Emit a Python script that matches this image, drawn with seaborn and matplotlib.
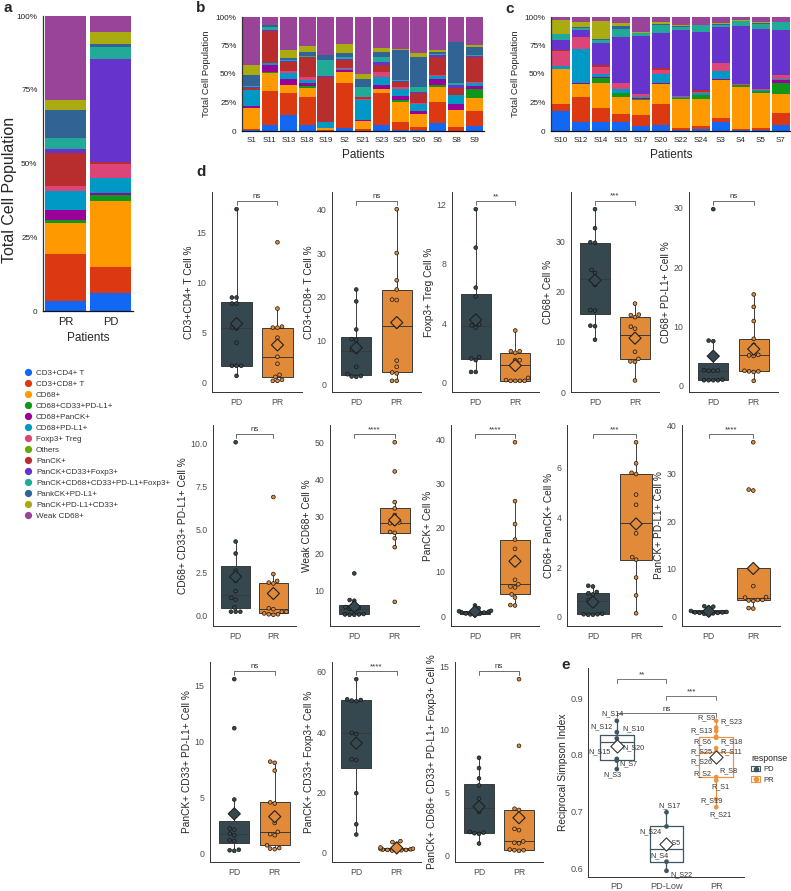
import numpy as np
import pandas as pd
import seaborn as sns
import matplotlib.pyplot as plt
from matplotlib.lines import Line2D
from matplotlib.patches import Patch
from matplotlib.ticker import FormatStrFormatter

# ---------------------------------------------------------
# Cell types (stack order bottom -> top) and their colours
# ---------------------------------------------------------
cell_types = ["CD3+CD4+ T", "CD3+CD8+ T", "CD68+", "CD68+CD33+PD-L1+", "CD68+PanCK+",
              "CD68+PD-L1+", "Foxp3+ Treg", "Others", "PanCK+", "PanCK+CD33+Foxp3+",
              "PanCK+CD68+CD33+PD-L1+Foxp3+", "PankCK+PD-L1+", "PanCK+PD-L1+CD33+", "Weak CD68+"]
cell_colors = ["#1268f5", "#dc3912", "#ff9900", "#109618", "#990099", "#0099c6", "#dd4477",
               "#66aa00", "#b82e2e", "#6633cc", "#22aa99", "#316395", "#aaaa11", "#994499"]

# ---------------------------------------------------------
# Panel a: composition per response group (%)
# ---------------------------------------------------------
a_groups = ["PR", "PD"]
a_pr = [3.3, 15.9, 10.6, 1.0, 3.6, 6.3, 1.6, 0.2, 11.1, 1.4, 3.5, 9.8, 3.2, 28.5]
a_pd = [6.2, 8.7, 22.3, 2.1, 0.7, 5.1, 4.6, 0.1, 0.8, 34.7, 4.3, 1.0, 4.1, 5.3]

# ---------------------------------------------------------
# Panel b: PR patients (%)
# ---------------------------------------------------------
b_samples = ["S1", "S11", "S13", "S18", "S19", "S2", "S21", "S23", "S25", "S26", "S6", "S8", "S9"]
pr_s1 = [0.6, 1.4, 18.3, 0, 1.5, 14.1, 0.5, 0, 1.7, 0.5, 0.5, 10.2, 8.6, 42.1]
pr_s11 = [5, 30.3, 15.9, 0.2, 6.2, 1.8, 0.6, 0, 28, 0.8, 2.4, 1.7, 0.1, 7]
pr_s13 = [13.8, 19.7, 6.5, 0, 5.9, 4.7, 2.0, 0, 8.3, 0.5, 1.0, 1.4, 7.4, 28.8]
pr_s18 = [5.6, 23.8, 8.2, 2.1, 2.1, 2.9, 2.4, 0, 17.6, 0.6, 0.6, 3.8, 5.0, 25.3]
pr_s19 = [0.3, 0.3, 2.0, 0, 0.2, 5.3, 0.2, 0, 39.5, 0.4, 14.4, 4.4, 0, 33]
pr_s2 = [2.6, 39.8, 9.7, 0, 1.4, 0.6, 1.2, 0, 7.1, 0.6, 2.3, 2.9, 8.0, 23.8]
pr_s21 = [0.3, 1.7, 6.8, 0, 1.2, 17.4, 0.5, 0, 1.5, 0.3, 8.5, 7.4, 4.4, 50]
pr_s23 = [5, 27.9, 3.6, 0, 3.8, 7.3, 4.4, 0, 5.9, 3.0, 4.4, 4.4, 2.9, 27.4]
pr_s25 = [1, 6.9, 17.4, 1.7, 3.6, 5.9, 2.3, 0, 4.4, 0.3, 1.2, 26.5, 0.3, 28.5]
pr_s26 = [0.5, 3.0, 11.8, 0, 2.3, 6.5, 0.5, 0, 8.3, 1.5, 4.4, 26.5, 2.9, 31.8]
pr_s6 = [7.4, 18.2, 13.2, 1.5, 5.6, 2.3, 1.2, 0, 15.9, 1.2, 1.1, 2.1, 1.5, 28.8]
pr_s8 = [0.3, 3.2, 14.7, 0.5, 5.4, 7.4, 0.5, 0, 5.4, 2.9, 1.5, 36.1, 0.6, 21.5]
pr_s9 = [4.1, 13.5, 11.5, 7.4, 2.9, 2.4, 1.4, 0, 22.1, 0.5, 1.0, 7.3, 0.9, 25]

# ---------------------------------------------------------
# Panel c: PD patients (%)
# ---------------------------------------------------------
c_samples = ["S10", "S12", "S14", "S15", "S17", "S20", "S22", "S24", "S3", "S4", "S5", "S7"]
pd_s10 = [17.4, 6.7, 30, 0, 0.5, 2.5, 13.5, 0, 0.3, 8.8, 5.3, 0.3, 11.8, 2.9]
pd_s12 = [7.9, 21.5, 11.5, 0.3, 0.6, 30.3, 10, 0, 0.2, 6.1, 2.1, 0.4, 4.6, 4.5]
pd_s14 = [7.9, 12.7, 21.8, 3.8, 0.9, 2.9, 6.5, 0, 1.1, 19.5, 2.9, 0.6, 16.2, 3.2]
pd_s15 = [7.9, 7.4, 14.1, 3.5, 0.6, 3, 5.3, 0, 0.5, 39.8, 7.6, 2.1, 2.9, 5.3]
pd_s17 = [4.1, 9.7, 13.3, 1.4, 0.3, 1.2, 2.4, 0, 0.3, 50.8, 2.4, 0.3, 0.3, 13.5]
pd_s20 = [5.6, 18.5, 17.1, 0.3, 0.6, 8.0, 3.5, 0, 1.5, 30.9, 7.3, 0.4, 1.7, 4.6]
pd_s22 = [1.0, 1.9, 25, 1.2, 0.2, 0.3, 1.0, 0, 0.2, 58.0, 2.4, 0.6, 0.8, 7.4]
pd_s24 = [2, 2.1, 23.8, 3.6, 0.3, 1.1, 1.5, 0, 1.5, 50.9, 5.8, 0.2, 0.2, 7]
pd_s3 = [7.6, 3.9, 33.2, 0.3, 0.3, 7.3, 6.8, 0, 0.3, 31.2, 2.3, 0.6, 0.9, 5.3]
pd_s4 = [0.6, 1.4, 36.8, 1.5, 0.2, 0.2, 0.3, 0, 0.3, 51.1, 3.8, 0.4, 0.5, 2.9]
pd_s5 = [1, 1.6, 30.3, 2.4, 0.2, 0.3, 0.7, 0, 0.2, 52.7, 4.7, 0.3, 1.5, 4.1]
pd_s7 = [5.6, 10.3, 16.5, 10, 2.3, 1.0, 3.4, 0, 0.4, 38.7, 7.1, 0.2, 0.2, 4.3]

# ---------------------------------------------------------
# Panel d: per-patient cell percentages (PD n=12, PR n=13)
# ---------------------------------------------------------
groups = ["PD", "PR"]
pd_cd4 = [0.7, 1.7, 1.7, 1.7, 4.0, 5.4, 5.5, 7.9, 7.9, 8.5, 8.5, 17.3]
pr_cd4 = [0.2, 0.2, 0.3, 0.6, 0.8, 1.9, 2.6, 4.5, 5.5, 5.5, 5.6, 7.4, 14.0]
pd_cd8 = [1.8, 1.9, 2.0, 2.4, 4.1, 7.5, 7.9, 10.2, 10.4, 12.6, 19.0, 21.7]
pr_cd8 = [0.9, 0.9, 2.6, 2.8, 4.1, 5.5, 13.3, 19.3, 19.4, 21.7, 23.8, 30.0, 40.0]
pd_treg = [0.7, 0.7, 1.5, 1.6, 1.7, 3.7, 3.85, 3.9, 5.8, 6.4, 9.1, 11.7]
pr_treg = [0.1, 0.1, 0.1, 0.1, 0.15, 0.3, 1.2, 1.5, 1.5, 2.0, 2.1, 2.1, 3.5]
pd_cd68 = [10.4, 13.1, 13.2, 16.2, 16.3, 21.3, 23.7, 24.3, 29.7, 29.8, 32.6, 36.4]
pr_cd68 = [2.3, 6.0, 6.1, 6.6, 8.0, 10.1, 11.4, 12.6, 13.0, 14.9, 15.3, 15.4, 17.6]
pd_cd68_pdl1 = [0.9, 0.9, 0.9, 0.9, 1.0, 2.5, 2.5, 2.55, 2.6, 7.5, 7.6, 29.8]
pr_cd68_pdl1 = [0.8, 2.3, 2.4, 2.4, 2.5, 5.0, 5.1, 5.2, 6.9, 7.9, 10.9, 13.3, 15.4]
pd_cd68_cd33_pdl1 = [0.2, 0.2, 0.2, 0.45, 0.9, 1.0, 1.4, 2.0, 2.6, 3.6, 4.3, 10.1]
pr_cd68_cd33_pdl1 = [0.02, 0.05, 0.05, 0.1, 0.2, 0.2, 0.35, 0.4, 1.85, 1.9, 2.0, 2.4, 6.9]
pd_weak = [3.3, 3.3, 3.4, 3.4, 3.5, 4.6, 4.9, 5.1, 5.4, 7.1, 7.3, 14.5]
pr_weak = [6.8, 21.6, 24.0, 25.5, 25.7, 28.0, 28.1, 28.3, 30.3, 32.1, 33.8, 42.1, 50.0]
pd_panck = [0.3, 0.4, 0.5, 0.6, 0.8, 0.9, 1.0, 1.1, 1.2, 1.3, 1.8, 2.4]
pr_panck = [2.4, 2.5, 4.2, 4.9, 6.5, 6.7, 7.2, 8.2, 15.2, 17.3, 20.8, 26.0, 39.3]
pd_cd68_panck = [0.08, 0.08, 0.1, 0.1, 0.12, 0.6, 0.68, 0.9, 0.95, 1.0, 1.22, 1.25]
pr_cd68_panck = [0.14, 0.86, 1.58, 2.3, 2.4, 3.36, 3.78, 4.51, 4.92, 5.75, 5.8, 6.18, 7.03]
pd_panck_pdl1 = [0.4, 0.6, 0.7, 0.8, 0.8, 0.9, 0.9, 1.0, 1.2, 1.9, 2.1, 2.2]
pr_panck_pdl1 = [1.7, 1.8, 3.3, 3.4, 3.5, 3.5, 4.0, 4.1, 6.4, 10.1, 26.4, 26.6, 36.5]
pd_panck_cd33_pdl1 = [0.2, 0.25, 0.3, 1.1, 1.15, 1.6, 1.75, 2.1, 2.2, 4.8, 11.2, 15.6]
pr_panck_cd33_pdl1 = [0.35, 0.4, 0.45, 0.7, 1.6, 1.7, 1.9, 2.7, 4.45, 4.55, 7.4, 8.1, 8.2]
pd_panck_cd33_foxp3 = [6.1, 9.5, 19.8, 30.8, 31.0, 39.4, 39.8, 50.3, 50.5, 50.7, 50.9, 57.6]
pr_panck_cd33_foxp3 = [0.7, 0.8, 0.9, 1.0, 1.0, 1.1, 1.2, 1.3, 1.4, 1.8, 3.0, 3.6, 3.9]
pd_five = [0.93, 1.7, 1.75, 1.8, 1.85, 3.44, 4.08, 4.5, 5.56, 6.11, 6.93, 7.75]
pr_five = [0.35, 0.4, 0.4, 0.45, 0.95, 1.0, 1.1, 2.0, 2.1, 3.6, 3.7, 8.7, 14.0]

d_ylabels = ["CD3+CD4+ T Cell %", "CD3+CD8+ T Cell %", "Foxp3+ Treg Cell %", "CD68+ Cell %",
             "CD68+ PD-L1+ Cell %", "CD68+ CD33+ PD-L1+ Cell %", "Weak CD68+ Cell %", "PanCK+ Cell %",
             "CD68+ PanCK+ Cell %", "PanCK+ PD-L1+ Cell %", "PanCK+ CD33+ PD-L1+ Cell %",
             "PanCK+ CD33+ Foxp3+ Cell %", "PanCK+ CD68+ CD33+ PD-L1+ Foxp3+ Cell %"]
d_signif = ["ns", "ns", "**", "***", "ns", "ns", "****", "****", "***", "****", "ns", "****", "ns"]
d_yticks = [[0, 5, 10, 15], [0, 10, 20, 30, 40], [0, 4, 8, 12], [0, 10, 20, 30], [0, 10, 20, 30],
            [0, 2.5, 5, 7.5, 10], [10, 20, 30, 40, 50], [0, 10, 20, 30, 40], [0, 2, 4, 6],
            [0, 10, 20, 30, 40], [0, 5, 10, 15], [0, 20, 40, 60], [0, 5, 10, 15]]

# ---------------------------------------------------------
# Panel e: reciprocal Simpson index per patient
# ---------------------------------------------------------
e_order = ["PD", "PD-Low", "PR"]
e_pd_names = ["N_S14", "N_S12", "N_S10", "N_S20", "N_S15", "N_S7", "N_S3"]
e_pd_vals = [0.860, 0.840, 0.829, 0.822, 0.793, 0.790, 0.775]
e_low_names = ["N_S17", "N_S24", "N_S5", "N_S4", "N_S22"]
e_low_vals = [0.699, 0.674, 0.635, 0.612, 0.596]
e_pr_names = ["R_S9", "R_S23", "R_S13", "R_S6", "R_S18", "R_S25", "R_S11", "R_S26", "R_S8",
              "R_S2", "R_S1", "R_S19", "R_S21"]
e_pr_vals = [0.860, 0.848, 0.842, 0.832, 0.830, 0.812, 0.805, 0.796, 0.790, 0.761, 0.755, 0.722, 0.708]
e_signif = ["**", "***", "ns"]

# ---------------------------------------------------------
# Styling / layout (pixel boxes of the 791 x 891 canvas)
# ---------------------------------------------------------
sns.set_style("white")
plt.rcParams["font.family"] = ["Liberation Sans", "DejaVu Sans"]

W, H = 791, 891
fig = plt.figure(figsize=(W / 100, H / 100), dpi=100)

PD_COL, PR_COL = "#36484f", "#e08a3a"
grp_colors = [PD_COL, PR_COL]
AX_COL = "#333333"
TXT_COL = "#4d4d4d"


def px_axes(x0, y0, x1, y1):
    return fig.add_axes([x0 / W, 1 - y1 / H, (x1 - x0) / W, (y1 - y0) / H])


def classic(ax, lw=0.7):
    for s in ["top", "right"]:
        ax.spines[s].set_visible(False)
    for s in ["left", "bottom"]:
        ax.spines[s].set_color(AX_COL)
        ax.spines[s].set_linewidth(lw)


def stacked_bars(ax, samples, rows, tick_size, label_size, ylab_size):
    comp = pd.DataFrame(rows, index=samples, columns=cell_types)
    comp = comp.div(comp.sum(axis=1), axis=0) * 100
    cum = comp.cumsum(axis=1)
    cum["sample"] = samples
    # draw cumulative tops from the top layer down so lower layers overlay
    for ct, col in zip(cell_types[::-1], cell_colors[::-1]):
        sns.barplot(data=cum, x="sample", y=ct, order=samples, color=col, width=0.9,
                    saturation=1, errorbar=None, linewidth=0, ax=ax)
    ax.set_xlim(-0.5, len(samples) - 0.5)
    ax.set_ylim(0, 100)
    ax.set_yticks([0, 25, 50, 75, 100])
    ax.set_yticklabels(["0", "25%", "50%", "75%", "100%"])
    ax.set_xlabel("Patients", fontsize=label_size, labelpad=4)
    ax.set_ylabel("Total Cell Population", fontsize=ylab_size, labelpad=3)
    ax.tick_params(axis="y", labelsize=tick_size, length=2.5, width=0.6, pad=1.5, colors="#222222")
    ax.tick_params(axis="x", length=2.5, width=0.6, pad=1.5, colors="#222222")
    classic(ax, 0.9)
    ax.spines["bottom"].set_color("#111111")


# ---------------- panel a ----------------
ax_a = px_axes(43, 16, 133, 311)
stacked_bars(ax_a, a_groups, [a_pr, a_pd], 5.9, 8.5, 11.5)
ax_a.tick_params(axis="x", labelsize=8)
ax_a.yaxis.set_label_coords(-0.29, 0.41)

legend_handles = [Line2D([], [], marker="o", linestyle="", markersize=4.2,
                         markerfacecolor=c, markeredgecolor=c) for c in cell_colors]
fig.legend(legend_handles, cell_types, loc="upper left", bbox_to_anchor=(24 / W, 1 - 369 / H),
           frameon=False, fontsize=5.8, handletextpad=0.5, handlelength=1.0,
           labelspacing=0.42, borderaxespad=0, borderpad=0, labelcolor="#333333")

# ---------------- panels b and c ----------------
ax_b = px_axes(242, 17, 484, 131)
stacked_bars(ax_b, b_samples,
             [pr_s1, pr_s11, pr_s13, pr_s18, pr_s19, pr_s2, pr_s21, pr_s23, pr_s25, pr_s26,
              pr_s6, pr_s8, pr_s9], 5.9, 8.5, 6.8)
ax_b.tick_params(axis="x", labelsize=5.8)

ax_c = px_axes(551, 17, 791, 131)
stacked_bars(ax_c, c_samples,
             [pd_s10, pd_s12, pd_s14, pd_s15, pd_s17, pd_s20, pd_s22, pd_s24, pd_s3, pd_s4,
              pd_s5, pd_s7], 5.9, 8.5, 6.8)
ax_c.tick_params(axis="x", labelsize=5.8)

# ---------------- panel d ----------------
d_pairs = [(pd_cd4, pr_cd4), (pd_cd8, pr_cd8), (pd_treg, pr_treg), (pd_cd68, pr_cd68),
           (pd_cd68_pdl1, pr_cd68_pdl1), (pd_cd68_cd33_pdl1, pr_cd68_cd33_pdl1),
           (pd_weak, pr_weak), (pd_panck, pr_panck), (pd_cd68_panck, pr_cd68_panck),
           (pd_panck_pdl1, pr_panck_pdl1), (pd_panck_cd33_pdl1, pr_panck_cd33_pdl1),
           (pd_panck_cd33_foxp3, pr_panck_cd33_foxp3), (pd_five, pr_five)]

d_boxes = [(212, 192, 302, 392), (332, 192, 421, 392), (452, 192, 539, 392),
           (571, 192, 659, 392), (689, 192, 778, 392),
           (213, 425, 296, 626), (330, 425, 419, 626), (451, 425, 539, 626),
           (567, 425, 662, 626), (682, 425, 780, 626),
           (210, 662, 299, 862), (332, 662, 421, 862), (455, 662, 543, 862)]


def box_panel(ax, pd_vals, pr_vals, ylabel, sig, ticks):
    df = pd.DataFrame({"group": ["PD"] * len(pd_vals) + ["PR"] * len(pr_vals),
                       "value": pd_vals + pr_vals})
    sns.boxplot(data=df, x="group", y="value", hue="group", order=groups, hue_order=groups,
                palette=grp_colors, width=0.75, showcaps=False, showfliers=False,
                linecolor="#3a3a3a", linewidth=0.7, saturation=1, legend=False, ax=ax)
    sns.swarmplot(data=df, x="group", y="value", hue="group", order=groups, hue_order=groups,
                  palette=grp_colors, size=2.7, edgecolor="#161616", linewidth=0.5,
                  legend=False, ax=ax)
    means = df.groupby("group")["value"].mean().reindex(groups)
    ax.scatter(range(len(groups)), means.values, marker="D", s=38, c=grp_colors,
               edgecolors="#202020", linewidths=0.8, zorder=5)
    lo, hi = df["value"].min(), df["value"].max()
    rng = hi - lo
    b = hi + 0.05 * rng
    tip = 0.025 * rng
    ax.plot([0, 0, 1, 1], [b - tip, b, b, b - tip], color="#555555", lw=0.6)
    ax.text(0.5, b + 0.004 * rng, sig, ha="center", va="bottom", fontsize=5.8, color="#333333")
    ax.set_xlim(-0.6, 1.6)
    ax.set_ylim(lo - 0.065 * rng, hi + 0.1 * rng)
    ax.set_yticks(ticks)
    if any(isinstance(t, float) for t in ticks):
        ax.yaxis.set_major_formatter(FormatStrFormatter("%.1f"))
    ax.set_xlabel("")
    ax.set_ylabel(ylabel, fontsize=7.3, labelpad=2)
    ax.tick_params(labelsize=6.3, colors=TXT_COL, length=2.5, width=0.6, pad=1.5)
    classic(ax)


for (pdv, prv), box, ylab, sig, ticks in zip(d_pairs, d_boxes, d_ylabels, d_signif, d_yticks):
    box_panel(px_axes(*box), pdv, prv, ylab, sig, ticks)

# ---------------- panel e ----------------
E_PD, E_PR = "#3f5661", "#ee9440"
e_df = pd.DataFrame({
    "name": e_pd_names + e_low_names + e_pr_names,
    "value": e_pd_vals + e_low_vals + e_pr_vals,
    "group": ["PD"] * len(e_pd_vals) + ["PD-Low"] * len(e_low_vals) + ["PR"] * len(e_pr_vals),
    "response": ["PD"] * (len(e_pd_vals) + len(e_low_vals)) + ["PR"] * len(e_pr_vals),
})
ax_e = px_axes(588, 668, 744, 877)
sns.boxplot(data=e_df, x="group", y="value", hue="response", order=e_order, hue_order=groups,
            palette=[E_PD, E_PR], fill=False, dodge=False, width=0.68, showcaps=False,
            showfliers=False, linewidth=0.9, legend=False, ax=ax_e)
sns.stripplot(data=e_df, x="group", y="value", hue="response", order=e_order, hue_order=groups,
              palette=[E_PD, E_PR], jitter=False, dodge=False, size=3.4, linewidth=0,
              legend=False, ax=ax_e)
e_means = e_df.groupby("group")["value"].mean().reindex(e_order)
ax_e.scatter(range(len(e_order)), e_means.values, marker="D", s=45, facecolors="white",
             edgecolors="#333333", linewidths=0.8, zorder=5)

# label offsets (pixels, right / down) for the repelled sample names
e_offsets = {"N_S14": (-4, -7), "N_S12": (-15, -5), "N_S10": (17, -10), "N_S20": (17, 5),
             "N_S15": (-17, -7), "N_S7": (12, 3), "N_S3": (-4, 6), "N_S17": (3, -6),
             "N_S24": (-16, 5), "N_S5": (5, -6), "N_S4": (-7, -6), "N_S22": (15, 4),
             "R_S9": (-10, -3), "R_S23": (15, -6), "R_S13": (-15, 0), "R_S6": (-14, 5),
             "R_S18": (15, 4), "R_S25": (-15, 4), "R_S11": (15, 0), "R_S26": (-15, 5),
             "R_S8": (12, 10), "R_S2": (-14, -3), "R_S1": (4, 6), "R_S19": (-5, 2),
             "R_S21": (4, 8)}
for _, row in e_df.iterrows():
    dx, dy = e_offsets[row["name"]]
    ax_e.annotate(row["name"], (e_order.index(row["group"]), row["value"]),
                  xytext=(dx, -dy), textcoords="offset pixels", ha="center", va="center",
                  fontsize=5.2, color="#333333")

e_brackets = [(0, 1, 0.933), (1, 2, 0.9035), (0, 2, 0.873)]
for (i0, i1, yb), sig in zip(e_brackets, e_signif):
    ax_e.plot([i0, i0, i1, i1], [yb - 0.006, yb, yb, yb - 0.006], color="#777777", lw=0.7)
    ax_e.text((i0 + i1) / 2, yb + 0.001, sig, ha="center", va="bottom", fontsize=5.8,
              color="#333333")

ax_e.set_xlim(-0.58, 2.56)
ax_e.set_ylim(0.585, 0.953)
ax_e.set_yticks([0.6, 0.7, 0.8, 0.9])
ax_e.set_xlabel("")
ax_e.set_ylabel("Reciprocal Simpson Index", fontsize=7.3, labelpad=2)
ax_e.tick_params(labelsize=6.6, colors=TXT_COL, length=2.5, width=0.6, pad=1)
classic(ax_e)

e_handles = [(Patch(facecolor="white", edgecolor=c, linewidth=0.8),
              Line2D([], [], marker="o", linestyle="", markersize=3, color=c)) for c in [E_PD, E_PR]]
ax_e.legend(e_handles, groups, title="response", loc="upper left",
            bbox_to_anchor=(751 / W, 1 - 754 / H), bbox_transform=fig.transFigure,
            frameon=False, fontsize=5.5, title_fontsize=6.3, handlelength=1.2,
            handletextpad=0.4, labelspacing=0.4, borderaxespad=0, borderpad=0,
            alignment="left", labelcolor="#333333")

# ---------------- panel letters ----------------
for letter, (lx, ly) in zip("abcde", [(4, 8), (196, 8), (505, 9), (196, 172), (561, 665)]):
    fig.text(lx / W, 1 - ly / H, letter, fontsize=11, fontweight="bold", ha="left", va="center")

fig.savefig("out.png", dpi=100)
